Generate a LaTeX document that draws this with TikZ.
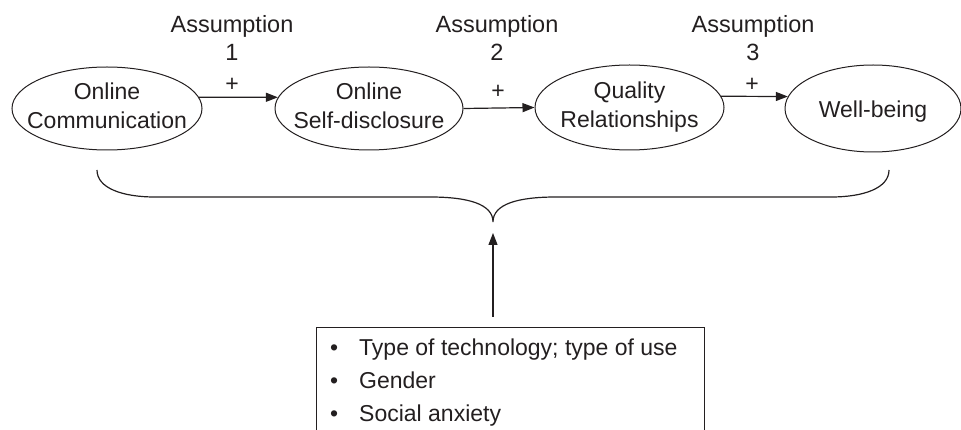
\documentclass[tikz,border=0pt]{standalone}
\usepackage{fontspec}
\setmainfont{Liberation Sans}
\usetikzlibrary{shapes.geometric,arrows.meta}
\definecolor{ink}{RGB}{35,31,32}
\newcommand{\ovaltext}[1]{\makebox[0pt]{\begin{tabular}{@{}c@{}}#1\end{tabular}}}
\begin{document}
\begin{tikzpicture}[x=1pt,y=-1pt,
  every node/.style={font=\fontsize{23}{29}\selectfont, text=ink, inner sep=0pt},
  oval/.style={ellipse, draw=ink, line width=1pt},
  arr/.style={draw=ink, line width=1.2pt, -{Triangle[length=12pt,width=9pt]}},
  lab/.style={align=center, anchor=north, font=\fontsize{23.5}{28}\selectfont},
  listitem/.style={anchor=base west}
]
\useasboundingbox (0,0) rectangle (961,430);
\clip (0,0) rectangle (961,430);
% ovals
\node[oval, minimum width=190pt, minimum height=83pt] (e1) at (107,108.5) {\ovaltext{Online\\Communication}};
\node[oval, minimum width=188pt, minimum height=83pt] (e2) at (369,108.5) {\ovaltext{Online\\Self-disclosure}};
\node[oval, minimum width=189pt, minimum height=85pt] (e3) at (629.5,107.5) {\ovaltext{Quality\\Relationships}};
\node[oval, minimum width=176pt, minimum height=87pt] (e4) at (873,108.5) {\ovaltext{\raisebox{-3.5pt}{Well-being}}};
% assumption labels
\node[lab] (a1) at (232,15.5) {Assumption\\1};
\node[lab] (a2) at (497,15.5) {Assumption\\2};
\node[lab] (a3) at (753,15.5) {Assumption\\3};
\node (p1) at (232,85) {+};
\node (p2) at (498,92) {+};
\node (p3) at (752,85) {+};
% arrows
\draw[arr] (e1.7) -- (e2.173);
\draw[arr] (e2.east) -- (e3.west);
\draw[arr] (e3.7) -- (e4.172);
% brace
\coordinate (cusp) at (493,222);
\draw[ink, line width=1.2pt] (97,170) .. controls (97,188) and (122,197) .. (155,197) -- (430,197)
  .. controls (468,197) and (493,204) .. (cusp)
  .. controls (493,204) and (518,197) .. (556,197) -- (831,197)
  .. controls (864,197) and (889,188) .. (889,170);
% factors box
\node[draw=ink, line width=1pt, anchor=north west, minimum width=388pt, minimum height=130pt] (factors) at (316,327) {};
\draw[arr, shorten <=10pt, shorten >=11pt] (factors.north -| cusp) -- (cusp);
\node[listitem] (l1) at (330,355) {\makebox[29pt][l]{•}Type of technology; type of use};
\node[listitem] (l2) at (330,388) {\makebox[29pt][l]{•}Gender};
\node[listitem] (l3) at (330,421) {\makebox[29pt][l]{•}Social anxiety};
\end{tikzpicture}
\end{document}
